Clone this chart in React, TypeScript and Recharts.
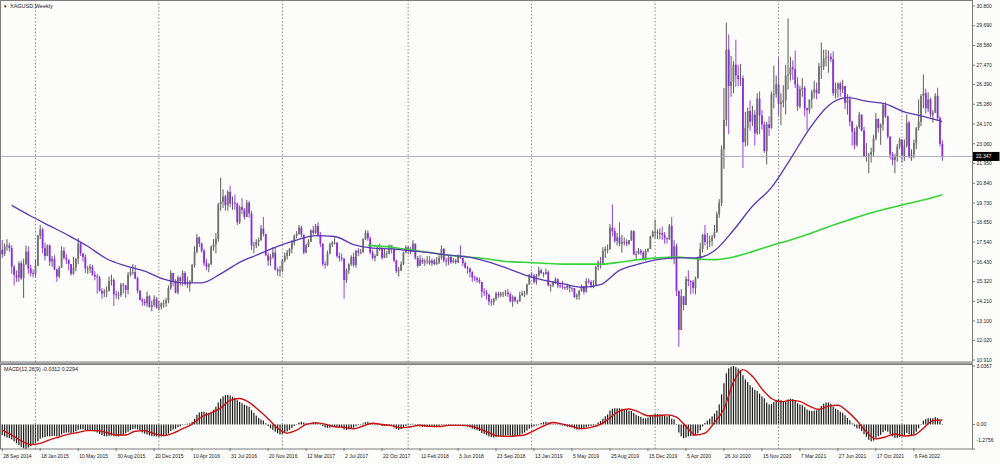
import React from 'react';
import { ComposedChart, Bar, Line, XAxis, YAxis, ReferenceLine } from 'recharts';

// ---------- data (weekly XAGUSD, first bar = week of 28 Sep 2014) ----------
const FIRST_OPEN = 17.1;
const CLOSE = [
  16.85,17.3,17.35,17.2,16.15,15.7,15.55,16.35,15.5,16.3,
  17.0,16.05,15.8,15.75,
  16.2,17.9,18.25,17.2,
  16.75,17.35,16.45,16.6,
  16.0,15.6,16.1,17.05,16.65,
  16.55,16.3,15.75,16.1,
  16.6,17.45,16.9,16.7,16.05,
  16.05,16.15,15.7,15.6,
  15.55,14.8,14.65,14.75,
  14.8,15.35,15.4,14.6,
  14.55,
  14.55,15.15,15.1,14.85,
  15.7,15.85,15.85,15.5,
  14.8,14.3,14.2,14.1,14.5,
  13.9,14.0,14.35,13.85,
  13.9,14.1,14.1,14.25,
  14.95,
  15.8,15.35,14.7,15.55,
  15.35,15.8,15.2,15.15,
  15.3,16.25,17.0,17.8,
  17.45,17.05,16.35,16.15,16.3,
  17.25,17.4,17.7,19.65,
  19.8,20.1,19.6,20.35,19.7,
  19.75,19.7,18.65,19.5,
  19.35,18.95,19.75,19.15,
  17.35,17.35,17.55,17.65,18.3,
  18.0,16.8,16.5,16.7,
  16.95,16.0,15.9,15.95,
  16.5,16.75,16.95,17.15,17.5,
  17.9,18.0,18.35,17.95,
  16.95,17.35,17.55,18.2,
  18.05,18.45,17.95,17.45,16.3,
  16.25,16.9,17.4,17.5,
  17.5,16.75,16.65,16.6,
  15.4,15.95,16.3,16.7,16.25,
  17.05,16.95,16.95,17.7,
  18.05,17.75,16.95,16.65,
  16.75,17.2,17.2,16.65,16.9,
  16.9,17.35,17.15,16.5,
  15.9,15.95,16.3,16.95,
  17.25,
  17.05,17.05,17.45,16.65,
  16.2,16.55,16.4,16.45,
  16.5,16.35,16.5,16.3,
  16.4,16.65,17.15,16.5,
  16.45,
  16.7,16.4,16.5,16.4,
  16.75,16.65,16.35,16.1,
  16.05,15.85,15.55,15.5,15.4,
  15.3,14.75,14.7,14.6,
  14.2,14.15,14.35,14.65,
  14.55,
  14.65,14.65,14.7,14.6,
  14.2,14.45,14.25,14.2,
  14.55,14.65,14.65,15.15,
  15.7,
  15.65,15.3,15.65,15.95,
  15.8,15.75,15.85,15.1,
  15.1,15.3,15.45,15.1,
  15.05,
  15.0,14.95,15.1,14.95,
  14.95,14.45,14.55,14.8,
  15.05,14.75,15.35,15.3,15.1,
  15.1,16.15,16.4,16.35,
  17.05,17.15,17.15,18.35,
  18.15,17.6,17.8,17.45,
  17.55,
  17.55,17.45,17.65,18.15,
  16.85,16.85,17.05,16.95,
  16.55,17.05,17.15,17.85,
  18.1,
  18.1,18.05,18.05,17.95,
  17.75,17.7,18.45,16.65,
  17.3,14.8,12.6,14.5,
  14.0,
  15.45,15.35,15.3,14.95,
  15.5,16.6,17.15,17.95,17.55,
  17.55,17.6,17.8,18.1,
  19.1,19.75,22.75,24.4,
  28.35,26.3,26.55,27.5,26.9,
  26.7,26.75,23.15,23.95,
  24.9,24.3,24.7,23.65,
  25.6,24.65,24.15,22.65,24.15,
  23.95,25.85,25.85,26.4,
  25.3,25.4,25.5,26.9,
  26.95,27.35,27.25,26.4,
  25.15,26.15,26.2,25.05,24.95,
  25.55,25.95,26.1,25.9,
  27.4,27.4,27.85,27.9,27.95,
  27.8,25.9,26.15,26.45,
  26.1,26.3,25.35,25.55,
  24.3,23.75,23.0,24.0,24.7,
  23.8,22.35,22.4,22.45,
  22.6,23.35,24.45,23.95,
  24.15,25.25,24.6,23.45,22.45,
  22.15,22.35,22.9,23.3,
  22.4,22.95,24.25,22.3,
  22.45,23.1,23.95,24.3,
  25.75,25.9,25.05,25.55,24.7,
  24.8,25.75,24.5,23.05,
  22.347,
];
const HIGH = [
  17.65,17.45,17.7,17.5,17.35,16.25,15.95,16.45,16.5,16.6,
  17.35,17.3,16.25,16.0,
  16.55,17.95,18.5,18.35,
  17.5,17.4,17.4,16.75,
  16.8,16.05,16.2,17.3,17.25,
  16.85,16.55,16.05,16.7,
  16.65,17.75,17.55,16.85,16.85,
  16.2,16.3,16.25,15.9,
  15.75,15.65,14.95,14.9,
  15.05,15.6,15.7,15.5,
  14.8,
  14.75,15.25,15.25,15.15,
  15.85,16.1,16.3,16.25,
  15.6,14.85,14.4,14.35,14.75,
  14.55,14.25,14.55,14.45,
  14.25,14.15,14.3,14.4,
  15.1,
  15.95,15.75,15.45,15.65,
  15.6,15.95,15.9,15.6,
  15.4,16.3,17.3,18.0,
  17.85,17.5,17.15,16.6,16.35,
  17.35,17.7,18.05,19.75,
  21.15,20.5,20.2,20.45,20.7,
  20.1,20.2,19.75,19.6,
  20.0,19.45,19.9,19.85,
  19.3,17.55,17.7,17.8,18.5,
  18.95,18.0,16.95,16.85,
  17.25,17.2,16.1,16.2,
  16.6,16.95,17.1,17.2,17.65,
  17.95,18.15,18.5,18.45,
  17.95,17.45,17.7,18.25,
  18.45,18.55,18.65,18.1,17.45,
  16.45,17.05,17.5,17.6,
  17.8,17.55,16.95,16.9,
  16.65,16.05,16.35,16.8,16.95,
  17.1,17.2,17.15,17.75,
  18.2,18.2,17.85,17.1,
  16.85,17.3,17.45,17.25,17.15,
  17.05,17.4,17.35,17.25,
  16.55,16.15,16.45,17.0,
  17.35,
  17.3,17.25,17.65,17.45,
  16.75,16.8,16.65,16.6,
  16.75,16.75,16.6,16.6,
  16.7,16.8,17.35,17.2,
  16.65,
  16.75,16.75,16.65,16.6,
  16.85,17.35,16.65,16.45,
  16.2,16.1,15.9,15.65,15.6,
  15.55,15.3,14.95,14.85,
  14.6,14.35,14.4,14.75,
  14.75,
  14.75,14.75,14.85,14.9,
  14.7,14.55,14.5,14.3,
  14.75,14.8,14.8,15.2,
  15.75,
  15.85,15.75,15.75,16.15,
  16.05,15.85,16.05,15.95,
  15.2,15.35,15.55,15.5,
  15.25,
  15.35,15.05,15.2,15.1,
  15.0,14.85,14.65,14.85,
  15.15,15.05,15.5,15.5,15.4,
  15.4,16.2,16.5,16.7,
  17.25,17.3,17.4,18.55,
  19.65,18.35,18.05,18.65,
  17.95,
  17.8,17.7,17.65,18.2,
  18.2,17.05,17.2,17.15,
  17.05,17.15,17.2,17.9,
  18.2,
  18.8,18.25,18.3,18.4,
  18.1,17.8,18.55,18.95,
  17.65,17.45,14.7,14.9,
  14.35,
  15.6,15.95,15.4,15.4,
  15.6,16.7,17.5,18.0,18.5,
  18.05,17.9,17.95,18.5,
  19.25,19.95,22.95,26.2,
  29.85,29.2,28.0,27.7,28.9,
  27.5,27.55,26.9,24.85,
  25.1,25.5,25.2,24.95,
  25.9,26.0,24.95,24.3,24.3,
  24.6,26.0,27.45,26.9,
  27.9,25.9,26.35,27.5,
  30.1,27.95,27.75,28.3,
  26.8,26.3,26.75,26.3,25.1,
  25.55,26.1,26.6,26.5,
  27.6,28.75,28.35,28.35,28.3,
  28.15,28.25,26.5,26.5,
  26.55,26.65,26.2,25.85,
  25.75,24.35,23.95,24.1,24.85,
  24.7,24.0,23.1,22.55,
  22.85,23.55,24.8,24.5,
  24.2,25.35,25.4,24.65,23.5,
  22.6,22.5,23.05,23.4,
  23.3,23.3,24.7,24.35,
  22.75,23.3,24.0,25.55,
  25.85,26.95,26.15,25.95,25.65,
  24.95,25.9,26.2,24.6,
  23.25,
];
const LOW = [
  16.65,16.75,17.05,17.0,15.75,15.1,15.3,15.3,15.4,14.4,
  16.25,15.75,15.6,15.55,
  15.6,16.3,17.7,16.9,
  16.5,16.85,16.2,16.15,
  15.95,15.3,15.5,16.1,16.55,
  16.3,15.95,15.65,15.7,
  15.9,16.3,16.75,16.45,15.8,
  15.75,15.8,15.65,15.4,
  14.65,14.75,14.35,14.45,
  14.45,14.75,15.1,13.95,
  14.35,
  14.3,14.45,14.65,14.4,
  14.6,15.6,15.7,15.45,
  14.65,14.25,13.95,13.95,13.9,
  13.85,13.65,13.9,13.8,
  13.7,13.75,13.85,13.9,
  14.1,
  14.85,15.05,14.65,14.6,
  15.1,15.1,15.1,14.95,
  14.75,15.25,16.1,16.9,
  17.25,16.95,16.2,15.95,15.85,
  16.25,17.05,16.9,17.55,
  19.3,19.45,19.3,19.3,19.5,
  19.35,19.35,18.5,18.55,
  19.1,18.8,18.95,18.9,
  17.1,16.9,17.2,17.3,17.6,
  17.85,16.75,16.2,16.2,
  16.6,15.95,15.65,15.6,
  15.85,16.4,16.55,16.75,16.9,
  17.35,17.75,17.95,17.8,
  16.85,16.9,17.25,17.55,
  17.95,18.0,17.85,17.25,16.2,
  16.05,16.2,16.85,17.25,
  17.4,16.65,16.45,16.45,
  14.35,15.25,15.75,16.2,16.15,
  16.1,16.75,16.85,16.95,
  17.65,17.6,16.85,16.55,
  16.45,16.75,17.05,16.55,16.7,
  16.65,16.85,16.9,16.4,
  15.8,15.6,15.9,16.25,
  16.9,
  16.85,16.85,17.0,16.55,
  16.1,16.2,16.3,16.2,
  16.3,16.25,16.2,16.25,
  16.25,16.3,16.55,16.4,
  16.2,
  16.25,16.3,16.35,16.3,
  16.35,16.6,16.2,16.05,
  15.75,15.55,15.3,15.35,15.25,
  15.2,14.4,14.5,14.3,
  14.0,13.95,14.0,14.25,
  14.4,
  14.45,14.45,14.5,14.45,
  14.15,13.9,14.15,14.05,
  14.2,14.5,14.45,14.55,
  15.4,
  15.6,15.2,15.15,15.6,
  15.75,15.55,15.7,15.05,
  14.75,15.0,15.2,14.95,
  14.95,
  14.9,14.85,14.85,14.7,
  14.75,14.4,14.3,14.3,
  14.75,14.6,14.7,15.2,14.95,
  14.95,15.3,15.95,16.05,
  16.3,16.65,16.9,17.1,
  17.85,17.5,17.35,17.3,
  16.95,
  17.35,17.3,17.35,17.6,
  16.8,16.6,16.85,16.8,
  16.5,16.5,16.95,17.15,
  17.8,
  17.75,17.7,17.7,17.65,
  17.45,17.45,17.65,16.55,
  16.3,14.5,11.65,12.65,
  13.7,
  14.0,15.05,14.6,14.65,
  14.6,15.5,16.5,16.95,17.35,
  17.1,17.25,17.3,17.75,
  18.05,18.9,19.55,21.65,
  24.05,23.6,25.7,25.9,26.25,
  26.3,26.3,21.7,22.9,
  22.95,23.8,24.05,22.95,
  23.55,23.6,23.85,22.55,21.9,
  23.5,23.9,25.05,25.65,
  24.65,24.1,25.1,24.7,
  26.1,26.6,26.65,26.2,
  24.9,25.05,25.7,24.6,23.8,
  24.75,25.05,25.6,25.55,
  25.85,26.7,27.2,27.4,27.05,
  27.65,25.75,25.6,25.65,
  25.7,25.9,25.0,24.7,
  24.05,22.95,22.75,22.9,23.9,
  23.75,22.3,22.05,21.4,
  22.0,22.35,23.25,23.7,
  23.0,23.8,24.5,23.35,22.2,
  21.85,21.4,22.05,22.75,
  22.0,22.1,22.85,22.25,
  22.1,22.25,22.75,23.8,
  24.05,25.05,24.75,24.85,24.55,
  24.25,25.0,24.35,22.9,
  22.1,
];

// MACD(12,26,9) main line, one value per weekly bar
const MACD = [
  -0.55,-0.62,-0.68,-0.72,-0.78,-0.88,-0.98,-1.08,-1.18,-1.24,
  -1.27,-1.2,-1.12,-1.05,-0.98,-0.88,-0.74,-0.68,-0.66,-0.62,
  -0.62,-0.6,-0.6,-0.62,-0.6,-0.52,-0.45,-0.42,-0.42,-0.44,
  -0.42,-0.36,-0.28,-0.25,-0.26,-0.3,-0.32,-0.33,-0.33,-0.36,
  -0.42,-0.5,-0.56,-0.6,-0.62,-0.6,-0.58,-0.6,-0.62,-0.62,
  -0.58,-0.52,-0.46,-0.38,-0.3,-0.24,-0.22,-0.26,-0.34,-0.42,
  -0.48,-0.52,-0.57,-0.6,-0.62,-0.62,-0.64,-0.62,-0.6,-0.56,
  -0.48,-0.34,-0.26,-0.22,-0.14,-0.1,-0.02,0.02,0.04,0.06,
  0.14,0.3,0.5,0.62,0.66,0.66,0.62,0.6,0.62,0.76,
  0.92,1.14,1.34,1.46,1.52,1.54,1.5,1.44,1.38,1.26,
  1.18,1.1,1.02,0.98,0.92,0.74,0.6,0.46,0.34,0.26,
  0.2,0.06,-0.08,-0.2,-0.28,-0.38,-0.46,-0.52,-0.5,-0.44,
  -0.36,-0.28,-0.18,-0.08,0.02,0.1,0.14,0.1,0.06,0.04,
  0.08,0.12,0.12,0.08,0.0,-0.08,-0.16,-0.18,-0.16,-0.12,
  -0.1,-0.12,-0.14,-0.16,-0.26,-0.28,-0.26,-0.2,-0.16,-0.08,
  -0.04,0.0,0.06,0.12,0.14,0.08,0.0,-0.04,-0.04,-0.04,
  -0.08,-0.08,-0.08,-0.06,-0.08,-0.16,-0.24,-0.28,-0.24,-0.16,
  -0.08,-0.04,0.0,0.04,-0.02,-0.08,-0.1,-0.12,-0.12,-0.12,
  -0.12,-0.12,-0.12,-0.1,-0.08,-0.02,-0.02,-0.04,-0.04,-0.06,
  -0.06,-0.06,-0.04,0.0,-0.04,-0.08,-0.12,-0.16,-0.22,-0.26,
  -0.3,-0.34,-0.44,-0.5,-0.56,-0.62,-0.66,-0.68,-0.66,-0.64,
  -0.62,-0.6,-0.58,-0.56,-0.58,-0.6,-0.6,-0.6,-0.54,-0.48,
  -0.42,-0.32,-0.22,-0.14,-0.1,-0.06,0.0,0.08,0.12,0.14,
  0.1,0.06,0.04,0.04,0.0,-0.04,-0.06,-0.08,-0.12,-0.14,
  -0.16,-0.22,-0.26,-0.26,-0.22,-0.2,-0.14,-0.1,-0.08,-0.06,
  0.02,0.1,0.18,0.3,0.42,0.52,0.72,0.82,0.84,0.84,
  0.84,0.82,0.8,0.76,0.72,0.7,0.6,0.5,0.44,0.38,
  0.32,0.32,0.36,0.44,0.5,0.54,0.54,0.52,0.5,0.46,
  0.42,0.46,0.3,0.26,0.0,-0.42,-0.62,-0.72,-0.68,-0.62,
  -0.6,-0.6,-0.56,-0.46,-0.3,-0.1,0.08,0.2,0.3,0.42,
  0.56,0.72,1.04,1.56,2.14,2.66,2.92,3.0,3.04,2.98,
  2.9,2.8,2.56,2.34,2.2,2.04,1.92,1.8,1.74,1.6,
  1.46,1.36,1.14,1.04,1.06,1.16,1.28,1.32,1.26,1.2,
  1.2,1.3,1.34,1.32,1.24,1.1,1.04,1.0,0.9,0.78,
  0.72,0.7,0.72,0.74,0.82,0.96,1.08,1.14,1.14,1.08,
  0.92,0.82,0.76,0.66,0.6,0.48,0.34,0.22,0.06,-0.1,
  -0.2,-0.22,-0.34,-0.5,-0.64,-0.8,-0.88,-0.84,-0.7,-0.6,
  -0.54,-0.4,-0.32,-0.38,-0.5,-0.62,-0.7,-0.7,-0.66,-0.62,
  -0.58,-0.44,-0.52,-0.56,-0.5,-0.38,-0.2,0.0,0.2,0.28,
  0.32,0.32,0.32,0.38,0.32,0.18,-0.03,
];

// [bar, value] points
const MA_FAST: [number, number][] = [
  [4,19.6],[12,19.0],[20,18.45],[28,17.9],[36,17.3],[44,16.6],[52,16.2],[60,15.9],[68,15.45],[76,15.25],
  [84,15.25],[92,15.75],[100,16.4],[108,16.85],[116,17.3],[124,17.65],[132,17.9],[140,17.85],[148,17.4],[156,17.2],
  [164,17.15],[172,17.05],[180,16.95],[188,16.8],[196,16.7],[204,16.45],[212,16.1],[220,15.7],[228,15.4],[236,15.2],
  [244,15.0],[252,15.15],[260,15.95],[268,16.3],[276,16.55],[284,16.65],[292,16.65],[300,17.05],[308,18.2],[316,19.55],
  [324,20.6],[332,22.2],[340,23.9],[348,25.2],[356,25.65],[364,25.45],[372,25.3],[380,24.85],[388,24.6],[396,24.3],
];
const MA_SLOW: [number, number][] = [
  [154,17.35],[164,17.25],[172,17.1],[180,16.95],[188,16.8],[196,16.7],[204,16.6],[212,16.45],[220,16.4],[228,16.35],
  [236,16.3],[244,16.3],[252,16.3],[260,16.4],[268,16.55],[276,16.65],[284,16.7],[292,16.6],[300,16.55],[308,16.7],
  [316,17.0],[324,17.35],[332,17.65],[340,18.0],[348,18.4],[356,18.75],[364,19.1],[372,19.4],[380,19.65],[388,19.9],
  [396,20.2],
];
const SIGNAL: [number, number][] = [
  [0,-0.3],[4,-0.55],[8,-0.85],[12,-1.05],[16,-0.98],[20,-0.8],[24,-0.65],[28,-0.5],[32,-0.42],[36,-0.32],
  [40,-0.32],[44,-0.42],[48,-0.55],[52,-0.55],[56,-0.35],[60,-0.32],[64,-0.48],[68,-0.58],[72,-0.45],[76,-0.22],
  [80,0.02],[84,0.4],[88,0.6],[92,0.85],[96,1.25],[100,1.35],[104,1.15],[108,0.75],[112,0.3],[116,-0.2],
  [120,-0.45],[124,-0.3],[128,0.0],[132,0.08],[136,0.02],[140,-0.12],[144,-0.15],[148,-0.22],[152,-0.08],[156,0.06],
  [160,0.0],[164,-0.06],[168,-0.18],[172,-0.12],[176,-0.04],[180,-0.1],[184,-0.11],[188,-0.05],[192,-0.05],[196,-0.06],
  [200,-0.18],[204,-0.38],[208,-0.58],[212,-0.62],[216,-0.6],[220,-0.55],[224,-0.32],[228,-0.08],[232,0.1],[236,0.02],
  [240,-0.1],[244,-0.22],[248,-0.15],[252,0.0],[256,0.35],[260,0.7],[264,0.8],[268,0.65],[272,0.45],[276,0.45],
  [280,0.5],[284,0.38],[288,-0.1],[292,-0.55],[296,-0.45],[300,0.1],[304,0.8],[308,2.2],[312,2.85],[316,2.5],
  [320,1.85],[324,1.35],[328,1.18],[332,1.25],[336,1.2],[340,0.95],[344,0.78],[348,0.95],[352,1.0],[356,0.68],
  [360,0.2],[364,-0.38],[368,-0.75],[372,-0.65],[376,-0.5],[380,-0.6],[384,-0.55],[388,-0.2],[392,0.2],[396,0.23],
];

const TICK_LABELS = [
  '28 Sep 2014','18 Jan 2015','10 May 2015','30 Aug 2015','20 Dec 2015','10 Apr 2016','31 Jul 2016',
  '20 Nov 2016','12 Mar 2017','2 Jul 2017','22 Oct 2017','11 Feb 2018','3 Jun 2018','23 Sep 2018',
  '13 Jan 2019','5 May 2019','25 Aug 2019','15 Dec 2019','5 Apr 2020','26 Jul 2020','15 Nov 2020',
  '7 Mar 2021','27 Jun 2021','17 Oct 2021','6 Feb 2022',
];
const TICK_STEP = 16;
const YEAR_START_BARS = [14, 66, 118, 171, 223, 275, 327, 379];
const PRICE_TICKS = [30.8,29.69,28.58,27.47,26.39,25.28,24.17,23.06,21.95,20.84,19.73,18.65,17.54,16.43,15.32,14.21,13.1,12.02,10.91];
const MACD_TICKS = [3.0367, 0, -1.2756];
const MACD_TICK_TEXT = ['3.0367', '0.00', '-1.2756'];
const LAST_PRICE = 22.347;
const MACD_LAST = '-0.0312';
const SIGNAL_LAST = '0.2294';

// ---------- layout & style ----------
const FONT = '"Liberation Sans", Arial, sans-serif';
const W = 1000;
const AXIS_W = 28;
const PLOT_R = W - AXIS_W;
const N_SLOTS = 409;
const BG = '#fcfcfa';
const BULL = '#707070';
const BULL_WICK = '#4a4a4a';
const BEAR = '#8a2fd6';
const MA_FAST_C = '#5b37b5';
const MA_SLOW_C = '#35d335';
const GRID_C = '#6a6a6a';
const TXT = '#202020';

const rows: any[] = Array.from({ length: N_SLOTS }, (_, i) => ({ i }));
CLOSE.forEach((c, i) => {
  const r = rows[i];
  r.o = i === 0 ? FIRST_OPEN : CLOSE[i - 1];
  r.c = c;
  r.h = HIGH[i];
  r.l = LOW[i];
  r.range = [LOW[i], HIGH[i]];
  r.macd = MACD[i];
});
MA_FAST.forEach(([b, v]) => { rows[b].maF = v; });
MA_SLOW.forEach(([b, v]) => { rows[b].maS = v; });
SIGNAL.forEach(([b, v]) => { rows[b].sig = v; });
const TICK_BARS = TICK_LABELS.map((_, k) => k * TICK_STEP);

const Candle = (props: any) => {
  const { x, y, width, height, payload } = props;
  if (!payload || payload.c == null || !isFinite(y)) return null;
  const { o, c, h, l } = payload;
  const top = height >= 0 ? y : y + height;
  const hh = Math.abs(height);
  const k = h - l > 0 ? hh / (h - l) : 0;
  const py = (v: number) => top + (h - v) * k;
  const cx = x + width / 2;
  const up = c >= o;
  const bTop = py(Math.max(o, c));
  const bBot = py(Math.min(o, c));
  const wTop = Math.min(top, bTop);
  const wBot = Math.max(top + hh, bBot);
  return (
    <g>
      <line x1={cx} x2={cx} y1={wTop} y2={wBot} stroke={up ? BULL_WICK : BEAR} strokeWidth={0.9} />
      <rect x={cx - 0.9} y={bTop} width={1.8} height={Math.max(bBot - bTop, 0.8)} fill={up ? BULL : BEAR} />
    </g>
  );
};

const HistBar = (props: any) => {
  const { x, y, width, height } = props;
  if (!isFinite(y) || height == null) return null;
  const top = height >= 0 ? y : y + height;
  const hh = Math.abs(height);
  const cx = x + width / 2;
  return <rect x={cx - 0.6} y={top} width={1.2} height={Math.max(hh, 0.5)} fill="#1a1a1a" />;
};

const PriceTick = (props: any) => {
  const { y, payload } = props;
  return (
    <g>
      <line x1={PLOT_R} x2={PLOT_R + 3} y1={y} y2={y} stroke="#555" strokeWidth={0.8} />
      <text x={PLOT_R + 4.5} y={y} dy="0.35em" fontSize={5} fill={TXT} fontFamily={FONT}>
        {Number(payload.value).toFixed(3)}
      </text>
    </g>
  );
};

const MacdTick = (props: any) => {
  const { y, payload, index } = props;
  const k = MACD_TICKS.indexOf(payload.value);
  const off = k === 2 ? -9 : 0;
  return (
    <g key={index}>
      <line x1={PLOT_R} x2={PLOT_R + 3} y1={y} y2={y} stroke="#555" strokeWidth={0.8} />
      <text x={PLOT_R + 4.5} y={y + off} dy="0.35em" fontSize={5} fill={TXT} fontFamily={FONT}>
        {MACD_TICK_TEXT[k]}
      </text>
    </g>
  );
};

const DateTick = (props: any) => {
  const { x, y, payload } = props;
  const k = TICK_BARS.indexOf(payload.value);
  if (k < 0) return null;
  return (
    <g>
      <line x1={x} x2={x} y1={y - 1} y2={y + 2} stroke="#555" strokeWidth={0.8} />
      <text x={x + 1} y={y + 7} dy="0.35em" fontSize={5} fill={TXT} fontFamily={FONT}>
        {TICK_LABELS[k]}
      </text>
    </g>
  );
};

const PriceTag = (props: any) => {
  const vb = props.viewBox || {};
  const yy = vb.y;
  const xx = (vb.x || 0) + (vb.width || 0);
  if (!isFinite(yy)) return null;
  return (
    <g>
      <rect x={xx + 0.5} y={yy - 4.5} width={AXIS_W - 1} height={9} fill="#000" />
      <text x={xx + 4} y={yy} dy="0.35em" fontSize={5} fill="#fff" fontFamily={FONT}>
        {LAST_PRICE.toFixed(3)}
      </text>
    </g>
  );
};

export default function App() {
  return (
    <div style={{ position: 'absolute', left: 0, top: 0, width: W, height: 464, background: BG, overflow: 'hidden' }}>
      <div style={{ position: 'absolute', left: 0, top: 0 }}>
        <ComposedChart width={W} height={363} data={rows} margin={{ top: 1, right: 0, bottom: 1, left: 1 }}>
          <XAxis dataKey="i" type="category" hide />
          <YAxis
            orientation="right"
            width={AXIS_W}
            domain={[10.8, 31.08]}
            allowDataOverflow
            ticks={PRICE_TICKS}
            tick={<PriceTick />}
            tickLine={false}
            axisLine={false}
            interval={0}
          />
          {YEAR_START_BARS.map((b) => (
            <ReferenceLine key={b} x={b} stroke={GRID_C} strokeDasharray="1.5 2" strokeWidth={0.8} />
          ))}
          <ReferenceLine y={LAST_PRICE} stroke="#a8a6b8" strokeWidth={0.9} label={(p: any) => <PriceTag {...p} />} />
          <Bar dataKey="range" shape={<Candle />} isAnimationActive={false} />
          <Line dataKey="maS" type="monotone" stroke={MA_SLOW_C} strokeWidth={1.6} dot={false} connectNulls isAnimationActive={false} />
          <Line dataKey="maF" type="monotone" stroke={MA_FAST_C} strokeWidth={1.3} dot={false} connectNulls isAnimationActive={false} />
        </ComposedChart>
      </div>
      <div style={{ position: 'absolute', left: 0, top: 362 }}>
        <ComposedChart width={W} height={102} data={rows} margin={{ top: 4, right: 0, bottom: 0, left: 1 }}>
          <XAxis
            dataKey="i"
            type="category"
            height={15}
            ticks={TICK_BARS}
            interval={0}
            tick={<DateTick />}
            tickLine={false}
            axisLine={false}
            tickSize={0}
            tickMargin={0}
          />
          <YAxis
            orientation="right"
            width={AXIS_W}
            domain={[-1.2756, 3.0367]}
            allowDataOverflow
            ticks={MACD_TICKS}
            tick={<MacdTick />}
            tickLine={false}
            axisLine={false}
            interval={0}
          />
          {YEAR_START_BARS.map((b) => (
            <ReferenceLine key={b} x={b} stroke={GRID_C} strokeDasharray="1.5 2" strokeWidth={0.8} />
          ))}
          <Bar dataKey="macd" shape={<HistBar />} isAnimationActive={false} />
          <Line dataKey="sig" type="monotone" stroke="#cc1010" strokeWidth={1.4} dot={false} connectNulls isAnimationActive={false} />
        </ComposedChart>
      </div>
      <svg width={W} height={464} style={{ position: 'absolute', left: 0, top: 0, pointerEvents: 'none' }}>
        <rect x={0.5} y={0.5} width={PLOT_R} height={361.5} fill="none" stroke="#7c7c7c" strokeWidth={1} />
        <rect x={0.5} y={364.5} width={PLOT_R} height={84.5} fill="none" stroke="#7c7c7c" strokeWidth={1} />
        <line x1={0} x2={PLOT_R + 1} y1={363.2} y2={363.2} stroke="#9a9a9a" strokeWidth={1.6} />
        <text x={3} y={6.5} dy="0.35em" fontSize={4.5} fill={TXT} fontFamily={FONT}>▼</text>
        <text x={10} y={6.5} dy="0.35em" fontSize={5.5} fill={TXT} fontFamily={FONT}>XAGUSD,Weekly</text>
        <text x={4} y={369} dy="0.35em" fontSize={5.3} fill={TXT} fontFamily={FONT}>
          {`MACD(12,26,9) ${MACD_LAST} ${SIGNAL_LAST}`}
        </text>
      </svg>
    </div>
  );
}
